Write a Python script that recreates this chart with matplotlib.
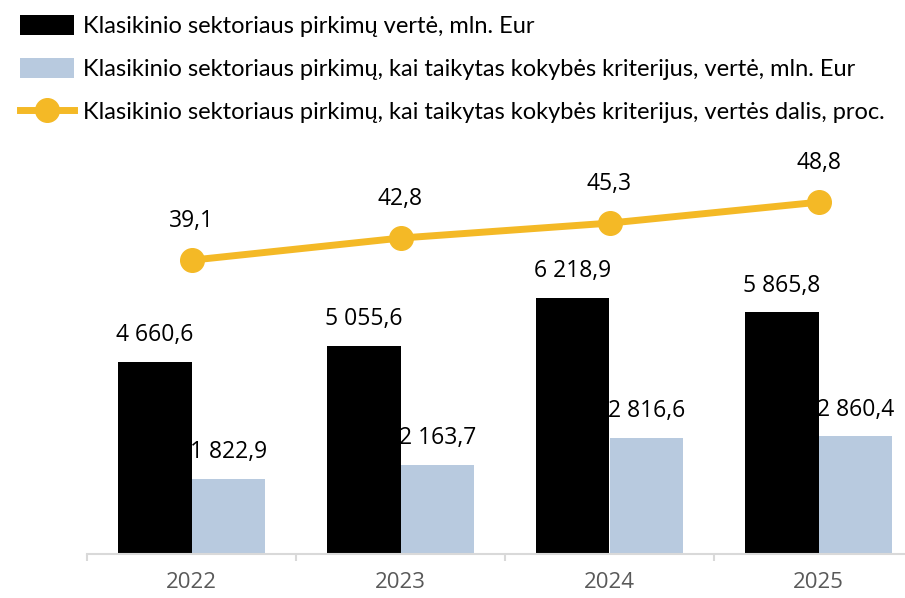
import matplotlib
matplotlib.use("Agg")
import matplotlib.pyplot as plt
from matplotlib.patches import Patch
from matplotlib.lines import Line2D
import numpy as np

# duomenys
metai = ["2022", "2023", "2024", "2025"]
verte = [4660.6, 5055.6, 6218.9, 5865.8]
verte_kokybe = [1822.9, 2163.7, 2816.6, 2860.4]
dalis = [39.1, 42.8, 45.3, 48.8]

leg_labels = [
    "Klasikinio sektoriaus pirkimų vertė, mln. Eur",
    "Klasikinio sektoriaus pirkimų, kai taikytas kokybės kriterijus, vertė, mln. Eur",
    "Klasikinio sektoriaus pirkimų, kai taikytas kokybės kriterijus, vertės dalis, proc.",
]

juoda = "#000000"
melyna = "#B8CADF"
geltona = "#F4B926"


def fmt(v):
    s = f"{v:,.1f}".replace(",", " ").replace(".", ",")
    return s


W, H = 905, 598
fig = plt.figure(figsize=(W / 100, H / 100), dpi=100)
ax = fig.add_axes([87 / W, 44 / H, 836 / W, 414 / H])
ax2 = ax.twinx()

x = np.arange(len(metai))
bw = 0.354
ax.bar(x - bw / 2, verte, bw, color=juoda, zorder=2)
ax.bar(x + bw / 2, verte_kokybe, bw, color=melyna, zorder=2)
ax.set_ylim(0, 10040)
ax.set_xlim(-0.5, len(metai) - 0.5)

for xi, v in zip(x, verte):
    ax.annotate(fmt(v), (xi - bw / 2, v), xytext=(0, 19), textcoords="offset points",
                ha="center", va="center", fontsize=16.5, family="Open Sans")
for xi, v in zip(x, verte_kokybe):
    ax.annotate(fmt(v), (xi + bw / 2, v), xytext=(0, 19), textcoords="offset points",
                ha="center", va="center", fontsize=16.5, family="Open Sans")

ax2.plot(x, dalis, color=geltona, lw=5, marker="o", markersize=17, zorder=3)
ax2.set_ylim(-10.03, 59.2)
for xi, v in zip(x, dalis):
    ax2.annotate(fmt(v), (xi, v), xytext=(0, 28), textcoords="offset points",
                 ha="center", va="center", fontsize=16.5, family="Open Sans")

for a in (ax, ax2):
    for s in ["top", "right", "left"]:
        a.spines[s].set_visible(False)
    a.set_yticks([])
ax2.spines["bottom"].set_visible(False)
ax.spines["bottom"].set_color("#D9D9D9")
ax.spines["bottom"].set_linewidth(1.5)

ax.set_xticks(x)
ax.set_xticklabels(metai, fontsize=16, color="#595959", family="Open Sans")
ax.tick_params(axis="x", which="major", length=0, pad=13)
ax.set_xticks(np.arange(-0.5, len(metai), 1), minor=True)
ax.tick_params(axis="x", which="minor", length=5, width=1.5, color="#D9D9D9")

handles = [
    Patch(facecolor=juoda),
    Patch(facecolor=melyna),
    Line2D([0], [0], color=geltona, lw=5, marker="o", markersize=17),
]
fig.legend(handles, leg_labels, loc="upper left", bbox_to_anchor=(20 / W, 1 - 15 / H),
           frameon=False, prop={"family": "Lato", "size": 17},
           borderpad=0, borderaxespad=0,
           handlelength=2.3, handleheight=0.95, handletextpad=0.36, labelspacing=0.88)

fig.savefig("out.png", dpi=100)
